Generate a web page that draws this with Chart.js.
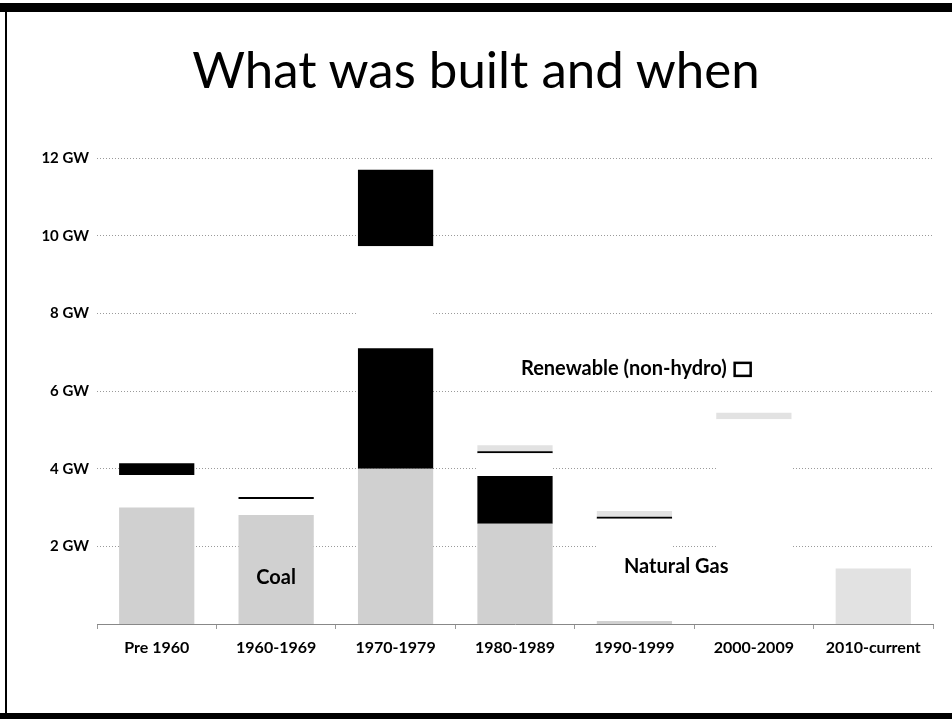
<!DOCTYPE html>
<html>
<head>
<meta charset="utf-8">
<script src="https://cdn.jsdelivr.net/npm/chart.js@4"></script>
<style>
  html, body { margin: 0; padding: 0; background: #fff; }
  body { width: 952px; height: 719px; position: relative; overflow: hidden; font-family: Lato, "Open Sans", sans-serif; }
  #topBar { position: absolute; left: 0; top: 3px; width: 952px; height: 9px; background: #000; }
  #bottomBar { position: absolute; left: 0; top: 713px; width: 952px; height: 6px; background: #000; }
  #leftLine { position: absolute; left: 5px; top: 3px; width: 2px; height: 716px; background: #000; }
  #title { position: absolute; left: 0; width: 952px; top: 38px; text-align: center; font-size: 51px; color: #000; }
  #wrap { position: absolute; left: 0; top: 141px; width: 952px; height: 534px; }
</style>
</head>
<body>
<div id="topBar"></div>
<div id="leftLine"></div>
<div id="bottomBar"></div>
<div id="title">What was built and when</div>
<div id="wrap"><canvas id="builtChart"></canvas></div>
<script>
// decades and GW added per fuel
const decades = ['Pre 1960', '1960-1969', '1970-1979', '1980-1989', '1990-1999', '2000-2009', '2010-current'];
const coal      = [3.0, 2.81, 4.0, 2.58, 0.08, 0, 0];
const nuclear   = [0, 0, 3.1, 1.23, 0, 0, 0];
const naturalGas = [0.84, 0.41, 2.63, 0.59, 2.63, 5.27, 0];
const oilOther  = [0.3, 0.05, 1.97, 0.05, 0.05, 0, 0];
const renewable = [0, 0, 0, 0.15, 0.15, 0.17, 1.43];
const yTicks = [2, 4, 6, 8, 10, 12];

// text labels sitting inside the plot
const notes = [
    { text: 'Coal', cat: 1, gw: 1.2, align: 'center' },
    { text: 'Natural Gas', cat: 4.35, gw: 1.48, align: 'center' },
    { text: 'Renewable (non-hydro)', cat: 3.05, gw: 6.57, align: 'left', box: true }
];

const notePlugin = {
    id: 'notes',
    afterDatasetsDraw(chart) {
        const ctx = chart.ctx;
        const xs = chart.scales.x, ys = chart.scales.y;
        ctx.save();
        ctx.font = '700 20px Lato, sans-serif';
        ctx.fillStyle = '#000';
        ctx.textBaseline = 'middle';
        notes.forEach(n => {
            const lo = Math.floor(n.cat);
            const px = xs.getPixelForValue(lo) + (n.cat - lo) * (xs.getPixelForValue(1) - xs.getPixelForValue(0));
            const py = ys.getPixelForValue(n.gw);
            ctx.textAlign = n.align;
            ctx.fillText(n.text, px, py);
            if (n.box) {
                const w = ctx.measureText(n.text).width;
                ctx.lineWidth = 2.5;
                ctx.strokeStyle = '#000';
                ctx.strokeRect(px + w + 8, py - 6, 16, 13);
            }
        });
        ctx.restore();
    }
};

const ctx = document.getElementById('builtChart').getContext('2d');
new Chart(ctx, {
    type: 'bar',
    data: {
        labels: decades,
        datasets: [
            { label: 'Coal', data: coal, backgroundColor: '#d0d0d0' },
            { label: 'Nuclear', data: nuclear, backgroundColor: '#000' },
            { label: 'Natural Gas', data: naturalGas, backgroundColor: '#fff' },
            { label: 'Oil & other', data: oilOther, backgroundColor: '#000' },
            { label: 'Renewable (non-hydro)', data: renewable, backgroundColor: '#e2e2e2' }
        ]
    },
    options: {
        responsive: true,
        maintainAspectRatio: false,
        animation: false,
        categoryPercentage: 0.63,
        barPercentage: 1,
        layout: { padding: { top: 7, right: 19, bottom: 0, left: 0 } },
        plugins: {
            legend: { display: false },
            tooltip: { enabled: false }
        },
        scales: {
            x: {
                stacked: true,
                afterFit: s => { s.height = 51; },
                border: { color: '#888', width: 1 },
                grid: { drawOnChartArea: false, drawTicks: true, tickLength: 5, color: '#999' },
                ticks: {
                    color: '#000',
                    padding: 9,
                    font: { family: 'Lato, sans-serif', size: 16, weight: 'bold' }
                }
            },
            y: {
                stacked: true,
                min: 0,
                max: 12,
                afterFit: s => { s.width = 97; },
                afterBuildTicks: s => { s.ticks = yTicks.map(v => ({ value: v })); },
                border: { display: false, dash: [1, 2] },
                grid: { color: '#9a9a9a', drawTicks: false, lineWidth: 1 },
                ticks: {
                    color: '#000',
                    padding: 8,
                    font: { family: 'Lato, sans-serif', size: 15, weight: 'bold' },
                    callback: v => v + ' GW'
                }
            }
        }
    },
    plugins: [notePlugin]
});
</script>
</body>
</html>
